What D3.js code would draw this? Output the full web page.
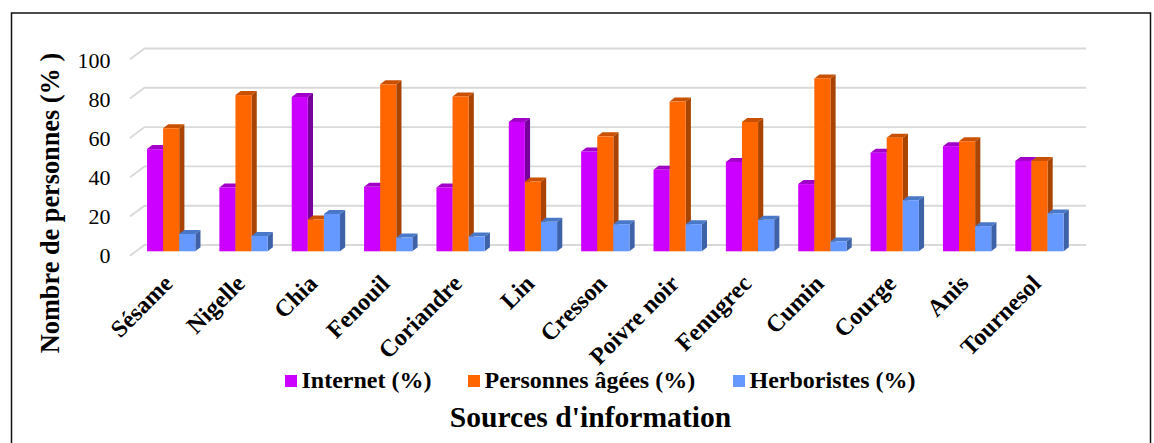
<!DOCTYPE html>
<html>
<head>
<meta charset="utf-8">
<script src="https://cdn.jsdelivr.net/npm/d3@7/dist/d3.min.js"></script>
<style>
html,body{margin:0;padding:0;background:#fff;overflow:hidden}
svg{display:block}
text{font-family:"Liberation Serif","Times New Roman",serif;fill:#000}
</style>
</head>
<body>
<svg id="chart" width="1154" height="443"></svg>
<script>
const categories = ["Sésame","Nigelle","Chia","Fenouil","Coriandre","Lin","Cresson","Poivre noir","Fenugrec","Cumin","Courge","Anis","Tournesol"];
const internet   = [52, 32.5, 78.5, 32.8, 32.5, 65.8, 50.8, 41.5, 45.5, 34.2, 50.2, 53.5, 46];
const personnes  = [62.6, 79.5, 16.2, 85, 78.8, 35.5, 58.5, 76.2, 65.8, 88, 57.8, 56, 46];
const herboristes= [8.8, 7.8, 19, 7, 7.5, 15, 13.8, 13.8, 16, 5, 26, 12.8, 19.3];
const seriesNames = ["Internet (%)","Personnes âgées (%)","Herboristes (%)"];
const yTicks = [0,20,40,60,80,100];

const svg = d3.select("#chart");
const H = 443;

// outer frame
svg.append("path").attr("d",`M11.5,${H}V13H1150.5V${H}`).attr("fill","none").attr("stroke","#111").attr("stroke-width",1.5);

// wall scale for gridlines, bar-plane scale for the columns
const yBack = d3.scaleLinear().domain([0,100]).range([245,48.5]);
const yBar  = d3.scaleLinear().domain([0,100]).range([251.3,54.8]);
const wallDx = 14.5, wallDy = 10.8;
const gridL = 144.5, gridR = 1086;

const xGroup = d3.scalePoint().domain(categories).range([147,1015.3]);
const barW = 16.1;

// gridlines with the short slanted return on the left wall
const grid = svg.append("g").attr("fill","none").attr("stroke","#d9d9d9").attr("stroke-width",1.9);
yTicks.forEach(t=>{
  grid.append("path").attr("d",`M${gridL-wallDx},${yBack(t)+wallDy}L${gridL},${yBack(t)}H${gridR}`);
});

// pseudo-3D columns: right side, top, then front face, drawn left to right
const depthX = 5.2, depthY = 4;
const palette = [
  {front:"#cc00ff",top:"#a000c8",side:"#75009a"},
  {front:"#ff6600",top:"#c85000",side:"#a84400"},
  {front:"#6699ff",top:"#4a78c8",side:"#3e62a8"}
];
const seriesValues = [internet,personnes,herboristes];
categories.forEach((c,i)=>{
  const g = svg.append("g").attr("class","group");
  seriesValues.forEach((vals,s)=>{
    const x0 = xGroup(c)+s*barW, x1 = x0+barW;
    const yt = yBar(vals[i]), yb = yBar(0), col = palette[s];
    g.append("polygon").attr("points",[[x1,yt],[x1+depthX,yt-depthY],[x1+depthX,yb-depthY],[x1,yb]].join(" ")).attr("fill",col.side);
    g.append("polygon").attr("points",[[x0,yt],[x0+depthX,yt-depthY],[x1+depthX,yt-depthY],[x1,yt]].join(" ")).attr("fill",col.top);
    g.append("rect").attr("x",x0).attr("y",yt).attr("width",barW).attr("height",yb-yt).attr("fill",col.front);
  });
});

// value axis labels
const yAxisScale = d3.scaleLinear().domain([0,100]).range([255.5,60.5]);
const axisG = svg.append("g").attr("transform","translate(110.5,0)")
  .call(d3.axisLeft(yAxisScale).tickValues(yTicks).tickSize(0).tickPadding(0));
axisG.select(".domain").remove();
axisG.selectAll("text").style("font-size","22px").style("font-family",'"Liberation Serif",serif');

// rotated category labels
svg.append("g").selectAll("text").data(categories).join("text")
  .attr("text-anchor","end")
  .attr("font-weight","bold")
  .attr("font-size","24px")
  .attr("transform",d=>`translate(${xGroup(d)+21},${279}) rotate(-45)`)
  .attr("dy","0.35em")
  .text(d=>d);

// legend
const legendX = [285,468,733];
const legend = svg.append("g");
seriesNames.forEach((n,i)=>{
  legend.append("rect").attr("x",legendX[i]).attr("y",375).attr("width",12).attr("height",12).attr("fill",palette[i].front);
  legend.append("text").attr("x",legendX[i]+16.5).attr("y",388).attr("font-weight","bold").attr("font-size","24px").text(n);
});

// axis titles
svg.append("text").attr("x",590.5).attr("y",426.5).attr("text-anchor","middle").attr("font-weight","bold").attr("font-size","29.6px").text("Sources d'information");
svg.append("text").attr("transform","translate(59,203) rotate(-90)").attr("text-anchor","middle").attr("font-weight","bold").attr("font-size","26.3px").text("Nombre de personnes (% )");
</script>
</body>
</html>
